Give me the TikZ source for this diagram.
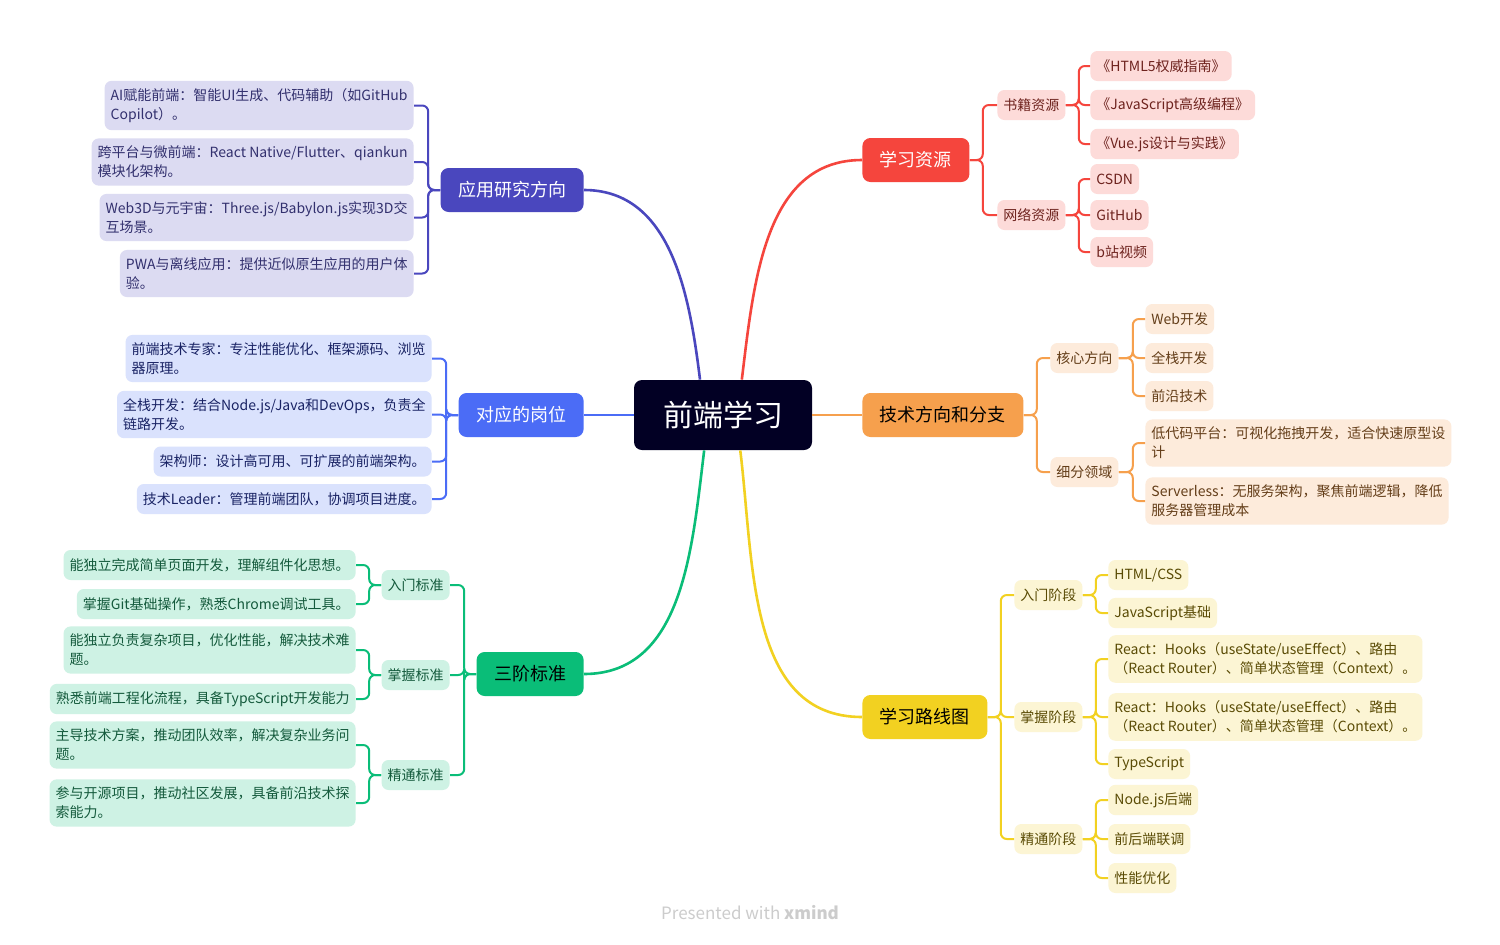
\documentclass[tikz,border=0pt]{standalone}
\usepackage{fontspec}
\setmainfont{Noto Sans CJK SC}
\usepackage{xcolor}
\usepackage{tikz}
\usetikzlibrary{arrows.meta,shapes,positioning,calc}
\definecolor{rootnavy}{RGB}{2,0,36}
\definecolor{appcol}{RGB}{74,71,190}
\definecolor{appfill}{RGB}{220,219,242}
\definecolor{apptext}{RGB}{50,48,110}
\definecolor{postcol}{RGB}{75,108,246}
\definecolor{postfill}{RGB}{218,226,253}
\definecolor{posttext}{RGB}{25,35,100}
\definecolor{stdcol}{RGB}{10,189,120}
\definecolor{stdfill}{RGB}{206,242,228}
\definecolor{stdtext}{RGB}{20,90,60}
\definecolor{rescol}{RGB}{245,69,61}
\definecolor{resfill}{RGB}{253,219,217}
\definecolor{restext}{RGB}{110,35,30}
\definecolor{techcol}{RGB}{246,160,77}
\definecolor{techfill}{RGB}{253,235,219}
\definecolor{techtext}{RGB}{100,62,25}
\definecolor{mapcol}{RGB}{242,209,33}
\definecolor{mapfill}{RGB}{252,245,212}
\definecolor{maptext}{RGB}{90,75,5}

\begin{document}
\begin{tikzpicture}[
    x=0.5pt, y=-0.5pt,
    rootbox/.style={rectangle, fill=rootnavy, rounded corners=4pt, minimum width=89pt, minimum height=35pt, text=white, font=\fontsize{15}{18}\selectfont},
    mainbox/.style={rectangle, fill=#1, rounded corners=4pt, minimum height=22pt, inner xsep=8.75pt, font=\fontsize{9}{11}\selectfont},
    subbox/.style={rectangle, fill=#1, rounded corners=3.5pt, minimum height=15pt, inner xsep=3pt, inner ysep=2pt, font=\fontsize{7}{9.5}\selectfont},
    leafbox/.style={subbox=#1, align=left, inner xsep=3pt, inner ysep=3.8pt},
    trunk/.style={draw=#1, line width=1.3pt},
    link/.style={draw=#1, line width=1pt, rounded corners=3pt}
]
    \fill[white] (0,0) rectangle (1500,944);
    \useasboundingbox (0,0) rectangle (1500,944);

    % centre and main branches
    \node[rootbox] (root) at (723,415) {前端学习};
    \node[mainbox=appcol, text=white, anchor=east] (app) at (584,190) {应用研究方向};
    \node[mainbox=postcol, text=white, anchor=east] (post) at (584,415) {对应的岗位};
    \node[mainbox=stdcol, text=black, anchor=east] (std) at (584,674) {三阶标准};
    \node[mainbox=rescol, text=white, anchor=west] (res) at (862,160) {学习资源};
    \node[mainbox=techcol, text=black, anchor=west] (tech) at (862,415) {技术方向和分支};
    \node[mainbox=mapcol, text=black, anchor=west] (map) at (862,717) {学习路线图};

    \draw[trunk=appcol] (root.123) to[out=97, in=0] (app.east);
    \draw[trunk=postcol] (root.west) -- (post.east);
    \draw[trunk=stdcol] (root.242) to[out=-97, in=0] (std.east);
    \draw[trunk=rescol] (root.62) to[out=83, in=180] (res.west);
    \draw[trunk=techcol] (root.east) -- (tech.west);
    \draw[trunk=mapcol] (root.296) to[out=-83, in=180] (map.west);

    % 应用研究方向
    \node[leafbox=appfill, text=apptext, anchor=east] (app1) at (414,105.5) {AI赋能前端：智能UI生成、代码辅助（如GitHub\\Copilot）。};
    \node[leafbox=appfill, text=apptext, anchor=east] (app2) at (414,162) {跨平台与微前端：React Native/Flutter、qiankun\\模块化架构。};
    \node[leafbox=appfill, text=apptext, anchor=east] (app3) at (414,217.5) {Web3D与元宇宙：Three.js/Babylon.js实现3D交\\互场景。};
    \node[leafbox=appfill, text=apptext, anchor=east] (app4) at (414,273.5) {PWA与离线应用：提供近似原生应用的用户体\\验。};
    \draw[link=appcol] (app.west) -- ++(-12,0) |- (app1.east);
    \draw[link=appcol] (app.west) -- ++(-12,0) |- (app2.east);
    \draw[link=appcol] (app.west) -- ++(-12,0) |- (app3.east);
    \draw[link=appcol] (app.west) -- ++(-12,0) |- (app4.east);

    % 对应的岗位
    \node[leafbox=postfill, text=posttext, anchor=east] (post1) at (432,358.5) {前端技术专家：专注性能优化、框架源码、浏览\\器原理。};
    \node[leafbox=postfill, text=posttext, anchor=east] (post2) at (432,414.5) {全栈开发：结合Node.js/Java和DevOps，负责全\\链路开发。};
    \node[leafbox=postfill, text=posttext, anchor=east] (post3) at (432,461.5) {架构师：设计高可用、可扩展的前端架构。};
    \node[leafbox=postfill, text=posttext, anchor=east] (post4) at (432,499) {技术Leader：管理前端团队，协调项目进度。};
    \draw[link=postcol] (post.west) -- ++(-12,0) |- (post1.east);
    \draw[link=postcol] (post.west) -- ++(-12,0) |- (post2.east);
    \draw[link=postcol] (post.west) -- ++(-12,0) |- (post3.east);
    \draw[link=postcol] (post.west) -- ++(-12,0) |- (post4.east);

    % 三阶标准
    \node[subbox=stdfill, text=stdtext, anchor=east] (stdA) at (450,585) {入门标准};
    \node[subbox=stdfill, text=stdtext, anchor=east] (stdB) at (450,675) {掌握标准};
    \node[subbox=stdfill, text=stdtext, anchor=east] (stdC) at (450,775) {精通标准};
    \draw[link=stdcol] (std.west) -- ++(-12,0) |- (stdA.east);
    \draw[link=stdcol] (std.west) -- ++(-12,0) |- (stdB.east);
    \draw[link=stdcol] (std.west) -- ++(-12,0) |- (stdC.east);
    \node[leafbox=stdfill, text=stdtext, anchor=east] (stdA1) at (356,565) {能独立完成简单页面开发，理解组件化思想。};
    \node[leafbox=stdfill, text=stdtext, anchor=east] (stdA2) at (356,604) {掌握Git基础操作，熟悉Chrome调试工具。};
    \node[leafbox=stdfill, text=stdtext, anchor=east] (stdB1) at (356,650) {能独立负责复杂项目，优化性能，解决技术难\\题。};
    \node[leafbox=stdfill, text=stdtext, anchor=east] (stdB2) at (356,699) {熟悉前端工程化流程，具备TypeScript开发能力};
    \node[leafbox=stdfill, text=stdtext, anchor=east] (stdC1) at (356,745) {主导技术方案，推动团队效率，解决复杂业务问\\题。};
    \node[leafbox=stdfill, text=stdtext, anchor=east] (stdC2) at (356,803) {参与开源项目，推动社区发展，具备前沿技术探\\索能力。};
    \draw[link=stdcol] (stdA.west) -- ++(-12,0) |- (stdA1.east);
    \draw[link=stdcol] (stdA.west) -- ++(-12,0) |- (stdA2.east);
    \draw[link=stdcol] (stdB.west) -- ++(-12,0) |- (stdB1.east);
    \draw[link=stdcol] (stdB.west) -- ++(-12,0) |- (stdB2.east);
    \draw[link=stdcol] (stdC.west) -- ++(-12,0) |- (stdC1.east);
    \draw[link=stdcol] (stdC.west) -- ++(-12,0) |- (stdC2.east);

    % 学习资源
    \node[subbox=resfill, text=restext, anchor=west] (book) at (997,105) {书籍资源};
    \node[subbox=resfill, text=restext, anchor=west] (web) at (997,215) {网络资源};
    \draw[link=rescol] (res.east) -- ++(13,0) |- (book.west);
    \draw[link=rescol] (res.east) -- ++(13,0) |- (web.west);
    \node[leafbox=resfill, text=restext, anchor=west] (book1) at (1090,66) {《HTML5权威指南》};
    \node[leafbox=resfill, text=restext, anchor=west] (book2) at (1090,105) {《JavaScript高级编程》};
    \node[leafbox=resfill, text=restext, anchor=west] (book3) at (1090,144) {《Vue.js设计与实践》};
    \node[leafbox=resfill, text=restext, anchor=west] (web1) at (1090,179) {CSDN};
    \node[leafbox=resfill, text=restext, anchor=west] (web2) at (1090,215) {GitHub};
    \node[leafbox=resfill, text=restext, anchor=west] (web3) at (1090,252) {b站视频};
    \draw[link=rescol] (book.east) -- ++(13,0) |- (book1.west);
    \draw[link=rescol] (book.east) -- ++(13,0) |- (book2.west);
    \draw[link=rescol] (book.east) -- ++(13,0) |- (book3.west);
    \draw[link=rescol] (web.east) -- ++(13,0) |- (web1.west);
    \draw[link=rescol] (web.east) -- ++(13,0) |- (web2.west);
    \draw[link=rescol] (web.east) -- ++(13,0) |- (web3.west);

    % 技术方向和分支
    \node[subbox=techfill, text=techtext, anchor=west] (core) at (1050,358) {核心方向};
    \node[subbox=techfill, text=techtext, anchor=west] (field) at (1050,472) {细分领域};
    \draw[link=techcol] (tech.east) -- ++(13,0) |- (core.west);
    \draw[link=techcol] (tech.east) -- ++(13,0) |- (field.west);
    \node[leafbox=techfill, text=techtext, anchor=west] (core1) at (1145,319) {Web开发};
    \node[leafbox=techfill, text=techtext, anchor=west] (core2) at (1145,358) {全栈开发};
    \node[leafbox=techfill, text=techtext, anchor=west] (core3) at (1145,396) {前沿技术};
    \node[leafbox=techfill, text=techtext, anchor=west] (field1) at (1145,443) {低代码平台：可视化拖拽开发，适合快速原型设\\计};
    \node[leafbox=techfill, text=techtext, anchor=west] (field2) at (1145,501) {Serverless：无服务架构，聚焦前端逻辑，降低\\服务器管理成本};
    \draw[link=techcol] (core.east) -- ++(14,0) |- (core1.west);
    \draw[link=techcol] (core.east) -- ++(14,0) |- (core2.west);
    \draw[link=techcol] (core.east) -- ++(14,0) |- (core3.west);
    \draw[link=techcol] (field.east) -- ++(14,0) |- (field1.west);
    \draw[link=techcol] (field.east) -- ++(14,0) |- (field2.west);

    % 学习路线图
    \node[subbox=mapfill, text=maptext, anchor=west] (mapA) at (1014,595) {入门阶段};
    \node[subbox=mapfill, text=maptext, anchor=west] (mapB) at (1014,717) {掌握阶段};
    \node[subbox=mapfill, text=maptext, anchor=west] (mapC) at (1014,839) {精通阶段};
    \draw[link=mapcol] (map.east) -- ++(13,0) |- (mapA.west);
    \draw[link=mapcol] (map.east) -- ++(13,0) |- (mapB.west);
    \draw[link=mapcol] (map.east) -- ++(13,0) |- (mapC.west);
    \node[leafbox=mapfill, text=maptext, anchor=west] (mapA1) at (1108,575) {HTML/CSS};
    \node[leafbox=mapfill, text=maptext, anchor=west] (mapA2) at (1108,613) {JavaScript基础};
    \node[leafbox=mapfill, text=maptext, anchor=west] (mapB1) at (1108,659) {React：Hooks（useState/useEffect）、路由\\（React Router）、简单状态管理（Context）。};
    \node[leafbox=mapfill, text=maptext, anchor=west] (mapB2) at (1108,717) {React：Hooks（useState/useEffect）、路由\\（React Router）、简单状态管理（Context）。};
    \node[leafbox=mapfill, text=maptext, anchor=west] (mapB3) at (1108,764) {TypeScript};
    \node[leafbox=mapfill, text=maptext, anchor=west] (mapC1) at (1108,800) {Node.js后端};
    \node[leafbox=mapfill, text=maptext, anchor=west] (mapC2) at (1108,839) {前后端联调};
    \node[leafbox=mapfill, text=maptext, anchor=west] (mapC3) at (1108,878) {性能优化};
    \draw[link=mapcol] (mapA.east) -- ++(13,0) |- (mapA1.west);
    \draw[link=mapcol] (mapA.east) -- ++(13,0) |- (mapA2.west);
    \draw[link=mapcol] (mapB.east) -- ++(13,0) |- (mapB1.west);
    \draw[link=mapcol] (mapB.east) -- ++(13,0) |- (mapB2.west);
    \draw[link=mapcol] (mapB.east) -- ++(13,0) |- (mapB3.west);
    \draw[link=mapcol] (mapC.east) -- ++(13,0) |- (mapC1.west);
    \draw[link=mapcol] (mapC.east) -- ++(13,0) |- (mapC2.west);
    \draw[link=mapcol] (mapC.east) -- ++(13,0) |- (mapC3.west);

    \node[text=black!20, font=\fontsize{8.5}{10}\selectfont] (credit) at (750,913) {Presented with \textbf{xmind}};
\end{tikzpicture}
\end{document}
